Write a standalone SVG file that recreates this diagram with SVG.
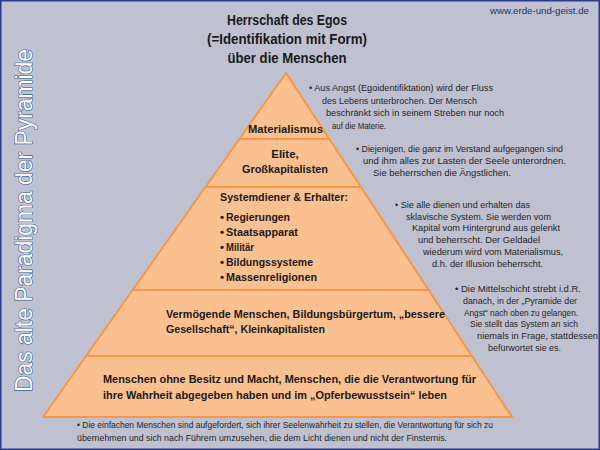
<svg xmlns="http://www.w3.org/2000/svg" width="600" height="450" viewBox="0 0 600 450">
<style>
.t{font-family:"Liberation Sans",Arial,sans-serif;fill:#1a1a1a}
.title{font-size:14px;font-weight:bold;text-anchor:middle}
.lbl{font-size:11.5px;font-weight:bold}
.ann{font-size:9.5px;fill:#262626}
.tier{fill:#FAC090;stroke:#F79646;stroke-width:2;stroke-linejoin:round}
.url{font-family:"Liberation Sans",Arial,sans-serif;font-size:9px;fill:#24306e}
.side{font-family:"Liberation Sans",Arial,sans-serif;font-size:24.5px;fill:#ffffff;stroke:#2E5C9E;stroke-width:1.2;paint-order:stroke}
</style>
<rect x="0.75" y="0.75" width="598.5" height="448.5" fill="#BFC0D0" stroke="#2B3990" stroke-width="1.5"/>
<text class="url" x="589" y="14" text-anchor="end" textLength="99" lengthAdjust="spacingAndGlyphs">www.erde-und-geist.de</text>
<text class="side" transform="translate(32,392) rotate(-90)" textLength="343" lengthAdjust="spacingAndGlyphs">Das alte Paradigma der Pyramide</text>
<g id="title">
<text class="t title" x="287" y="25" textLength="120" lengthAdjust="spacingAndGlyphs">Herrschaft des Egos</text>
<text class="t title" x="287" y="44" textLength="160" lengthAdjust="spacingAndGlyphs">(=Identifikation mit Form)</text>
<text class="t title" x="287" y="63" textLength="119" lengthAdjust="spacingAndGlyphs">über die Menschen</text>
</g>
<g id="tier1">
<polygon class="tier" points="286,73 329.4,139 239.4,139"/>
<text class="t lbl" x="248" y="133" textLength="75" lengthAdjust="spacingAndGlyphs">Materialismus</text>
</g>
<g id="tier2">
<polygon class="tier" points="239.4,139 329.4,139 360.9,187 205.5,187"/>
<text class="t lbl" x="285" y="158" text-anchor="middle">Elite,</text>
<text class="t lbl" x="285" y="173" text-anchor="middle" textLength="86" lengthAdjust="spacingAndGlyphs">Großkapitalisten</text>
</g>
<g id="tier3">
<polygon class="tier" points="205.5,187 360.9,187 428.6,290 132.7,290"/>
<text class="t lbl" x="220" y="201" textLength="128" lengthAdjust="spacingAndGlyphs">Systemdiener &amp; Erhalter:</text>
<text class="t lbl" x="220" y="221">•</text><text class="t lbl" x="226" y="221" textLength="64" lengthAdjust="spacingAndGlyphs">Regierungen</text>
<text class="t lbl" x="220" y="236">•</text><text class="t lbl" x="226" y="236" textLength="72" lengthAdjust="spacingAndGlyphs">Staatsapparat</text>
<text class="t lbl" x="220" y="251">•</text><text class="t lbl" x="226" y="251" textLength="28" lengthAdjust="spacingAndGlyphs">Militär</text>
<text class="t lbl" x="220" y="266">•</text><text class="t lbl" x="226" y="266" textLength="87" lengthAdjust="spacingAndGlyphs">Bildungssysteme</text>
<text class="t lbl" x="220" y="281">•</text><text class="t lbl" x="226" y="281" textLength="91" lengthAdjust="spacingAndGlyphs">Massenreligionen</text>
</g>
<g id="tier4">
<polygon class="tier" points="132.7,290 428.6,290 471.9,356 86.1,356"/>
<text class="t lbl" x="166" y="318" textLength="279" lengthAdjust="spacingAndGlyphs">Vermögende Menschen, Bildungsbürgertum, „bessere</text>
<text class="t lbl" x="166" y="333" textLength="159" lengthAdjust="spacingAndGlyphs">Gesellschaft“, Kleinkapitalisten</text>
</g>
<g id="tier5">
<polygon class="tier" points="86.1,356 471.9,356 512,417 43,417"/>
<text class="t lbl" x="103" y="383" textLength="373" lengthAdjust="spacingAndGlyphs">Menschen ohne Besitz und Macht, Menschen, die die Verantwortung für</text>
<text class="t lbl" x="103" y="399" textLength="344" lengthAdjust="spacingAndGlyphs">ihre Wahrheit abgegeben haben und im „Opferbewusstsein“ leben</text>
</g>
<g id="note1">
<text class="t ann" x="309" y="91" textLength="184" lengthAdjust="spacingAndGlyphs">• Aus Angst (Egoidentifiktation) wird der Fluss</text>
<text class="t ann" x="322" y="103.5" textLength="155" lengthAdjust="spacingAndGlyphs">des Lebens unterbrochen. Der Mensch</text>
<text class="t ann" x="326" y="116" textLength="178" lengthAdjust="spacingAndGlyphs">beschränkt sich in seinem Streben nur noch</text>
<text class="t ann" x="332" y="128.5" textLength="54" lengthAdjust="spacingAndGlyphs">auf die Materie.</text>
</g>
<g id="note2">
<text class="t ann" x="356" y="152" textLength="207" lengthAdjust="spacingAndGlyphs">• Diejenigen, die  ganz im Verstand aufgegangen sind</text>
<text class="t ann" x="363" y="164" textLength="203" lengthAdjust="spacingAndGlyphs">und ihm alles  zur Lasten der Seele unterordnen.</text>
<text class="t ann" x="373" y="176" textLength="138" lengthAdjust="spacingAndGlyphs">Sie beherrschen die  Ängstlichen.</text>
</g>
<g id="note3">
<text class="t ann" x="395" y="208" textLength="135" lengthAdjust="spacingAndGlyphs">• Sie alle dienen und  erhalten das</text>
<text class="t ann" x="406" y="219.7" textLength="145" lengthAdjust="spacingAndGlyphs">sklavische System. Sie werden vom</text>
<text class="t ann" x="412" y="231.4" textLength="148" lengthAdjust="spacingAndGlyphs">Kapital vom Hintergrund aus gelenkt</text>
<text class="t ann" x="418" y="243.1" textLength="122" lengthAdjust="spacingAndGlyphs">und beherrscht.  Der Geldadel</text>
<text class="t ann" x="423" y="254.8" textLength="140" lengthAdjust="spacingAndGlyphs">wiederum wird vom Materialismus,</text>
<text class="t ann" x="432" y="266.5" textLength="111" lengthAdjust="spacingAndGlyphs">d.h. der Illusion beherrscht.</text>
</g>
<g id="note4">
<text class="t ann" x="455" y="292" textLength="126" lengthAdjust="spacingAndGlyphs">• Die Mittelschicht strebt i.d.R.</text>
<text class="t ann" x="463" y="303.8" textLength="114" lengthAdjust="spacingAndGlyphs">danach, in der „Pyramide der</text>
<text class="t ann" x="464" y="315.6" textLength="114" lengthAdjust="spacingAndGlyphs">Angst“ nach oben zu gelangen.</text>
<text class="t ann" x="470" y="327.4" textLength="108" lengthAdjust="spacingAndGlyphs">Sie stellt das System an sich</text>
<text class="t ann" x="477" y="339.2" textLength="121" lengthAdjust="spacingAndGlyphs">niemals in Frage, stattdessen</text>
<text class="t ann" x="488" y="351" textLength="73" lengthAdjust="spacingAndGlyphs">befürwortet sie es.</text>
</g>
<g id="note5">
<text class="t ann" x="77" y="428" textLength="416" lengthAdjust="spacingAndGlyphs">• Die einfachen Menschen sind aufgefordert, sich ihrer Seelenwahrheit zu stellen, die Verantwortung für sich zu</text>
<text class="t ann" x="77" y="441" textLength="370" lengthAdjust="spacingAndGlyphs">übernehmen und sich nach Führern umzusehen, die dem Licht dienen und nicht der Finsternis.</text>
</g>
</svg>
